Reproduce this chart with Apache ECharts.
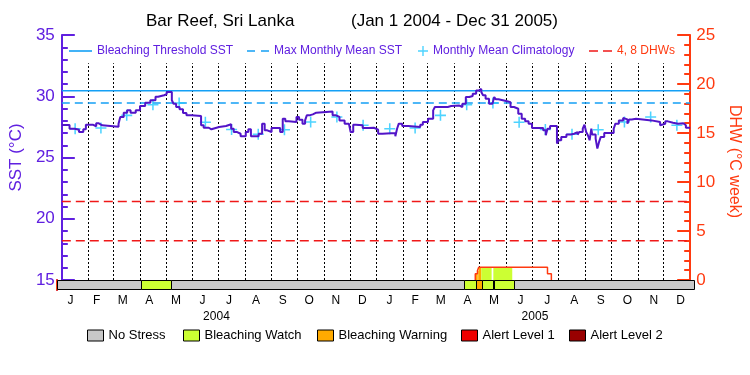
<!DOCTYPE html>
<html><head><meta charset="utf-8">
<script src="https://cdn.jsdelivr.net/npm/echarts@6/dist/echarts.min.js"></script>
<style>html,body{margin:0;padding:0;background:#fff}#c{width:750px;height:375px}</style>
</head><body><div id="c"></div>
<script>
// ---------------- data ----------------
const monthLetters = ['J','F','M','A','M','J','J','A','S','O','N','D','J','F','M','A','M','J','J','A','S','O','N','D'];
const monthDays = [31,29,31,30,31,30,31,31,30,31,30,31, 31,28,31,30,31,30,31,31,30,31,30,31];
const yearLabels = ['2004','2005'];

// daily SST (day index from Jan 1 2004, value degC) - step changes
const sstDay = [0,9,15,20,25,28,36,40,43,47,66,68,72,76,80,86,91,97,103,109,112,119,122,128,130,133,137,141,145,151,162,165,171,174,179,183,
  191,197,200,204,208,214,217,220,229,233,236,239,244,254,257,260,264,273,276,280,283,285,288,292,296,315,319,323,329,334,336,339,342,350,357,363,368,
  373,388,390,392,396,403,417,420,426,432,434,449,453,462,466,470,474,478,482,485,488,490,493,497,501,503,505,508,518,522,526,531,535,539,543,547,
  560,563,565,568,576,578,581,587,592,596,600,602,606,608,610,612,614,616,617,621,623,625,627,631,642,644,648,653,655,658,660,663,668,686,696,698,702,705,711,717,723,726,731];
const sstVal = [27.65,27.35,27.27,27.08,27.30,27.68,27.55,27.79,27.63,27.51,27.76,28.31,28.66,28.85,28.66,28.85,29.20,29.47,29.67,29.96,30.08,30.18,30.35,29.67,29.39,29.12,28.93,28.63,28.44,28.39,27.63,27.43,27.30,27.41,27.49,27.57,
  27.71,27.35,27.08,26.94,26.73,27.08,27.30,26.73,26.94,27.76,27.22,27.08,27.41,27.08,28.16,27.95,27.89,28.31,28.08,27.76,28.03,28.44,28.52,28.66,28.76,28.44,28.31,28.03,27.76,27.63,27.08,27.68,27.63,27.41,27.43,27.27,26.94,
  27.00,26.73,27.35,27.76,27.57,27.49,27.68,27.89,28.16,28.85,29.12,29.20,29.25,29.12,29.39,29.94,30.02,30.20,30.47,30.60,30.35,30.08,29.80,29.39,29.25,29.94,29.75,29.59,29.52,29.12,28.98,28.57,28.16,27.95,27.76,27.41,
  27.22,26.82,27.35,27.57,26.14,26.41,26.68,26.87,26.94,27.08,26.87,27.08,27.35,27.68,27.08,26.82,26.41,27.35,26.87,26.54,25.73,26.27,26.68,27.00,27.35,27.76,28.03,28.22,28.11,27.76,28.11,28.16,28.03,27.89,27.63,27.76,27.95,27.84,27.76,27.79,27.63,27.43,27.43];

// monthly mean climatology (Jan..Dec)
const climatology = [27.35,27.40,28.44,29.30,29.45,27.87,27.28,26.90,27.27,27.89,28.31,27.63];
const mmmSST = 29.45;
const thresholdSST = 30.45;
const dhwLevels = [4, 8];

// Degree Heating Weeks (step line)
const dhwDay = [481, 481, 483.5, 485, 565, 569.5];
const dhwVal = [0, 0.65, 0.95, 1.3, 0.65, 0];

// stress level strip
const stressNames = ['No Stress','Bleaching Watch','Bleaching Warning','Alert Level 1','Alert Level 2'];
const stressStart = [0, 96, 131, 467, 481, 488, 500, 502, 524];
const stressEnd   = [96, 131, 467, 481, 488, 500, 502, 524, 731];
const stressLevel = [0, 1, 0, 1, 2, 1, 0, 1, 0];

// ---------------- styling ----------------
const F = 'Liberation Sans';
const PURPLE = '#6020e0';
const LINEPURPLE = '#5214c8';
const RED = '#ff3a10';
const DASHRED = '#f01818';
const BLUE = '#14a0f5';
const CYAN = '#20c8ff';
const stressColors = ['#c8c8c8','#ccff33','#ffaa00','#ee0000','#990000'];
const DOT_TOP = 32.7;
const TOTAL = monthDays.reduce((a,b)=>a+b,0);

const monthStart = [];
let acc = 0;
monthDays.forEach(d => { monthStart.push(acc); acc += d; });
const monthMid = monthStart.map((s,i) => s + monthDays[i]/2);
const yearMid = [monthStart[0] + 366/2, 366 + 365/2];

function dhwAt(d){
  let v = 0;
  for (let i=0;i<dhwDay.length;i++){ if (dhwDay[i] <= d) v = dhwVal[i]; }
  return v;
}
const crossPath = 'path://M8.6,0H11.4V8.6H20V11.4H11.4V20H8.6V11.4H0V8.6H8.6Z';

const chart = echarts.init(document.getElementById('c'), null, {renderer:'canvas'});

const series = [];
// month dotted lines + SST
series.push({
  name:'SST', type:'line', xAxisIndex:0, yAxisIndex:0, step:'end', symbol:'none', z:5,
  lineStyle:{color:LINEPURPLE, width:2}, color:LINEPURPLE,
  data: sstDay.map((d,i)=>[d, sstVal[i]]),
  markLine:{silent:true, symbol:['none','none'], label:{show:false}, animation:false, z:1,
    lineStyle:{color:'#000', type:[2,2], width:1},
    emphasis:{disabled:true},
    data: monthStart.slice(1).map(d => [{coord:[d,15]},{coord:[d,DOT_TOP]}])}
});
series.push({
  name:'Bleaching Threshold SST', type:'line', xAxisIndex:0, yAxisIndex:0, symbol:'none', color:BLUE,
  lineStyle:{color:BLUE, width:1.5}, data:[[0,thresholdSST],[TOTAL,thresholdSST]]
});
series.push({
  name:'Max Monthly Mean SST', type:'line', xAxisIndex:0, yAxisIndex:0, symbol:'none', color:BLUE,
  lineStyle:{color:BLUE, width:1.5, type:[8,5]}, data:[[0,mmmSST],[TOTAL,mmmSST]]
});
series.push({
  name:'Monthly Mean Climatology', type:'scatter', xAxisIndex:0, yAxisIndex:0, symbol:crossPath, symbolSize:11,
  color:CYAN, itemStyle:{color:CYAN}, z:4,
  data: monthMid.map((m,i)=>[m, climatology[i % 12]])
});
dhwLevels.forEach(l => series.push({
  name:'4, 8 DHWs', type:'line', xAxisIndex:0, yAxisIndex:1, symbol:'none', color:DASHRED,
  lineStyle:{color:DASHRED, width:1.5, type:[9,5]}, data:[[0,l],[TOTAL,l]]
}));
// DHW fill coloured by stress level
series.push({
  name:'DHW fill', type:'custom', xAxisIndex:0, yAxisIndex:1, z:3, silent:true,
  data: stressStart.map((s,i)=>[s, stressEnd[i], stressLevel[i]]).filter(d=>d[2]>0),
  renderItem:(params, api) => {
    const s = api.value(0), e = api.value(1), lv = api.value(2);
    const pts = [s].concat(dhwDay.filter(d => d > s && d < e)).concat([e]);
    const children = [];
    for (let k=0;k<pts.length-1;k++){
      const v = dhwAt(pts[k]);
      if (v <= 0) continue;
      const p0 = api.coord([pts[k], v]), p1 = api.coord([pts[k+1], 0]);
      children.push({type:'rect', shape:{x:p0[0], y:p0[1], width:p1[0]-p0[0], height:p1[1]-p0[1]},
        style:{fill:stressColors[lv]}});
    }
    return {type:'group', children};
  }
});
// DHW line
series.push({
  name:'DHW', type:'line', xAxisIndex:0, yAxisIndex:1, step:'end', symbol:'none', z:6,
  lineStyle:{color:RED, width:1.5}, color:RED,
  data: dhwDay.map((d,i)=>[d, dhwVal[i]])
});
// stress strip
stressNames.forEach((name, li) => series.push({
  name, type:'custom', xAxisIndex:1, yAxisIndex:2, color:stressColors[li], itemStyle:{color:stressColors[li]},
  data: stressStart.map((s,i)=>[s, stressEnd[i], stressLevel[i]]).filter(d=>d[2]===li),
  renderItem:(params, api) => {
    const p0 = api.coord([api.value(0), 1]), p1 = api.coord([api.value(1), 0]);
    const x0 = Math.round(p0[0]) + 0.5, x1 = Math.round(p1[0]) + 0.5;
    const y0 = Math.round(p0[1]) + 0.5, y1 = Math.round(p1[1]) - 0.5;
    return {type:'rect', shape:{x:x0, y:y0, width:x1-x0, height:y1-y0},
      style:{fill:stressColors[li], stroke:'#000', lineWidth:1}};
  }
}));

const lgBase = {orient:'horizontal', padding:0, itemGap:0, selectedMode:false, symbolKeepAspect:true};
const topLegend = (name, left, icon, w, color, textColor) => ({...lgBase, left, top:45, itemWidth:w, itemHeight:10,
  textStyle:{fontFamily:F, fontSize:12, color:textColor},
  data:[{name, icon, itemStyle:{color, borderWidth:0}}]});
const botLegendLeft = [87, 183, 317, 461, 569];
const legends = [
  topLegend('Bleaching Threshold SST', 69, 'path://M0,0H23V1.6H0Z', 23, BLUE, PURPLE),
  topLegend('Max Monthly Mean SST', 247, 'path://M0,0H8V1.6H0ZM14,0H22V1.6H14Z', 22, BLUE, PURPLE),
  topLegend('Monthly Mean Climatology', 418, crossPath, 10, CYAN, PURPLE),
  topLegend('4, 8 DHWs', 589, 'path://M0,0H9V1.6H0ZM14,0H23V1.6H14Z', 23, DASHRED, RED)
].concat(stressNames.map((n,i)=>({...lgBase, left:botLegendLeft[i], top:329, itemWidth:16, itemHeight:11,
  textStyle:{fontFamily:F, fontSize:13, color:'#000'},
  data:[{name:n, icon:'rect', itemStyle:{color:stressColors[i], borderColor:'#000', borderWidth:1}}]})));

const tickCommon = (color) => ({
  axisTick:{show:true, inside:true, length:13, lineStyle:{color, width:2}},
  minorTick:{show:true, splitNumber:5, length:6, lineStyle:{color, width:2}},
  axisLine:{show:true, lineStyle:{color, width:2}},
  splitLine:{show:false}
});

const option = {
  animation:false,
  backgroundColor:'#fff',
  title:[
    {text:'Bar Reef, Sri Lanka', left:146, top:13, padding:0, textStyle:{fontFamily:F, fontSize:17, fontWeight:'normal', color:'#000'}},
    {text:'(Jan 1 2004 - Dec 31 2005)', left:351, top:13, padding:0, textStyle:{fontFamily:F, fontSize:17, fontWeight:'normal', color:'#000'}}
  ],
  legend: legends,
  grid:[
    {left:57, right:56, top:35, height:245},
    {left:57, right:56, top:280, height:10}
  ],
  xAxis:[
    {gridIndex:0, type:'value', min:0, max:TOTAL, show:false},
    {gridIndex:1, type:'value', position:'bottom', min:0, max:TOTAL, axisLine:{show:false}, axisTick:{show:false}, splitLine:{show:false},
      axisLabel:{customValues:monthMid, formatter:(v)=>monthLetters[monthMid.indexOf(v)] || '', color:'#000', fontFamily:F, fontSize:12, margin:5}},
    {gridIndex:1, type:'value', position:'bottom', min:0, max:TOTAL, offset:16, axisLine:{show:false}, axisTick:{show:false}, splitLine:{show:false},
      axisLabel:{customValues:yearMid, formatter:(v)=>yearLabels[yearMid.indexOf(v)] || '', color:'#000', fontFamily:F, fontSize:12, margin:5}}
  ],
  yAxis:[
    {gridIndex:0, type:'value', position:'left', min:15, max:35, interval:5, ...tickCommon(PURPLE),
      axisLabel:{color:PURPLE, fontSize:17, fontFamily:F, margin:7},
      name:'SST (°C)', nameLocation:'middle', nameRotate:90, nameGap:34,
      nameTextStyle:{color:PURPLE, fontSize:17, fontFamily:F}},
    {gridIndex:0, type:'value', position:'right', min:0, max:25, interval:5, ...tickCommon(RED),
      axisLabel:{color:RED, fontSize:17, fontFamily:F, margin:6},
      name:'DHW (°C week)', nameLocation:'middle', nameRotate:-90, nameGap:29,
      nameTextStyle:{color:RED, fontSize:16, fontFamily:F, padding:[0,0,0,8]}},
    {gridIndex:1, type:'value', position:'left', min:0, max:1, axisLine:{show:true, lineStyle:{color:PURPLE, width:2}},
      axisTick:{show:false}, axisLabel:{show:false}, splitLine:{show:false}},
    {gridIndex:1, type:'value', position:'right', min:0, max:1, axisLine:{show:true, lineStyle:{color:RED, width:2}},
      axisTick:{show:false}, axisLabel:{show:false}, splitLine:{show:false}}
  ],
  series
};
chart.setOption(option);
</script></body></html>
